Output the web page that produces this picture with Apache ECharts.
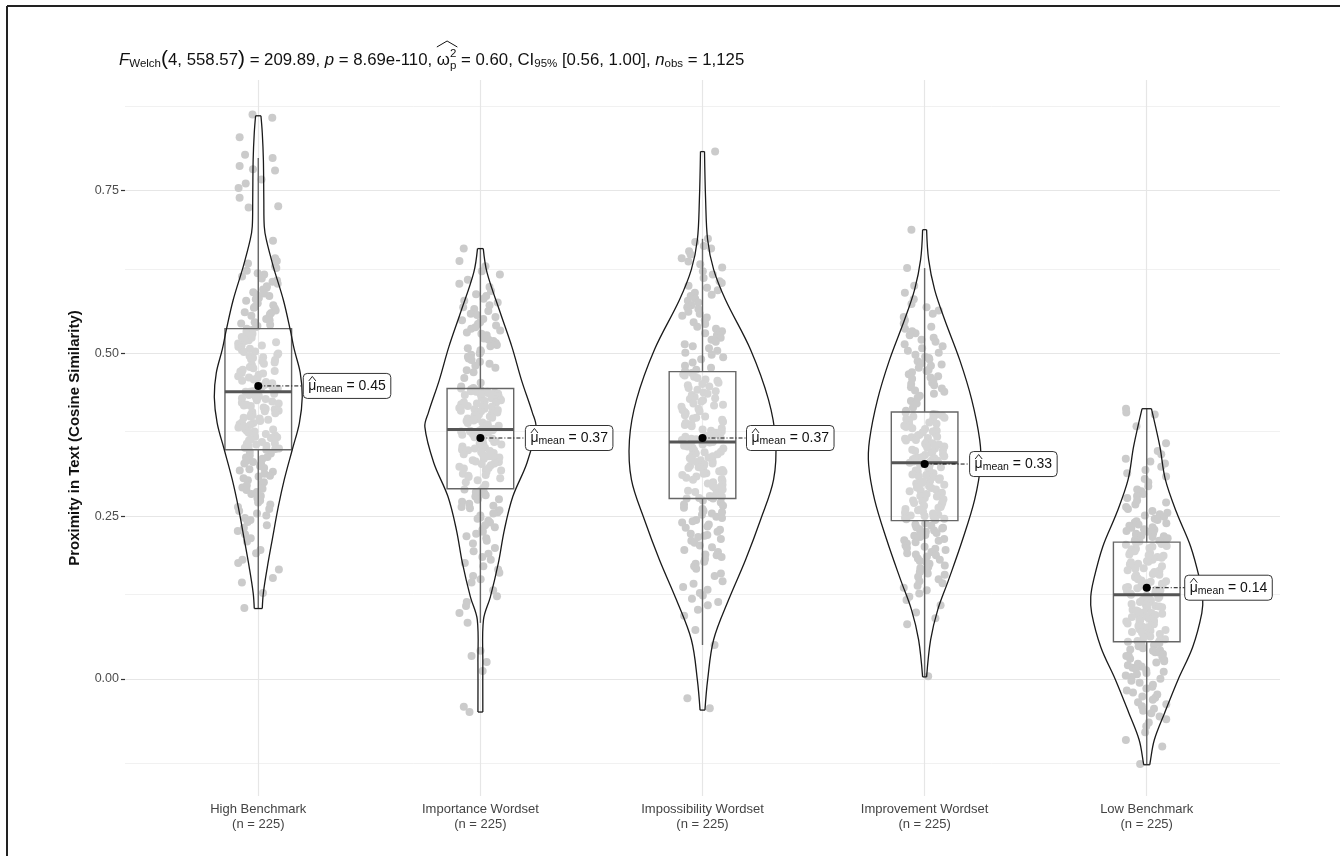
<!DOCTYPE html>
<html>
<head>
<meta charset="utf-8">
<title>Proximity in Text by Wordset</title>
<script src="https://cdn.jsdelivr.net/npm/echarts@6/dist/echarts.min.js"></script>
<style>
  html, body { margin: 0; padding: 0; background: #ffffff; }
  #chart { width: 1340px; height: 856px; }
</style>
</head>
<body>
<div id="chart"></div>
<script>
// ---------- data ----------
const groups = ['High Benchmark', 'Importance Wordset', 'Impossibility Wordset', 'Improvement Wordset', 'Low Benchmark'];
const groupN = [225, 225, 225, 225, 225];
const yTicks = [0, 0.25, 0.5, 0.75];
const yMinorBreaks = [-0.125, 0.125, 0.375, 0.625, 0.875];
const means = [0.45, 0.37, 0.37, 0.33, 0.14];

// box statistics per group: [lower whisker, Q1, median, Q3, upper whisker]
const boxHigh = [0.109, 0.352, 0.441, 0.538, 0.800];
const boxImportance = [0.086, 0.292, 0.383, 0.446, 0.661];
const boxImpossibility = [0.052, 0.277, 0.364, 0.472, 0.676];
const boxImprovement = [0.004, 0.243, 0.332, 0.410, 0.631];
const boxLow = [-0.131, 0.057, 0.129, 0.210, 0.415];

// violin outlines: density levels (y) and half widths (in category units)
const violinHighY = [0.865, 0.839, 0.798, 0.736, 0.695, 0.675, 0.633, 0.582, 0.536, 0.506, 0.470, 0.433, 0.393, 0.352, 0.306, 0.264, 0.214, 0.172, 0.132, 0.108];
const violinHighW = [0.012, 0.018, 0.023, 0.025, 0.027, 0.036, 0.068, 0.113, 0.144, 0.162, 0.189, 0.198, 0.185, 0.153, 0.117, 0.090, 0.063, 0.041, 0.023, 0.018];
const violinImportanceY = [0.661, 0.624, 0.562, 0.510, 0.459, 0.409, 0.387, 0.332, 0.280, 0.229, 0.178, 0.126, 0.091, 0.025, -0.051];
const violinImportanceW = [0.013, 0.030, 0.090, 0.142, 0.185, 0.234, 0.250, 0.210, 0.146, 0.108, 0.081, 0.045, 0.014, 0.011, 0.011];
const violinImpossibilityY = [0.810, 0.736, 0.675, 0.629, 0.582, 0.506, 0.429, 0.367, 0.306, 0.244, 0.183, 0.121, 0.060, -0.002, -0.048];
const violinImpossibilityW = [0.009, 0.014, 0.023, 0.050, 0.104, 0.216, 0.297, 0.329, 0.320, 0.261, 0.194, 0.117, 0.050, 0.023, 0.011];
const violinImprovementY = [0.690, 0.644, 0.598, 0.552, 0.490, 0.429, 0.367, 0.329, 0.275, 0.214, 0.152, 0.106, 0.060, 0.003];
const violinImprovementW = [0.009, 0.018, 0.045, 0.090, 0.158, 0.212, 0.248, 0.252, 0.225, 0.171, 0.108, 0.059, 0.027, 0.009];
const violinLowY = [0.415, 0.357, 0.306, 0.255, 0.203, 0.152, 0.126, 0.101, 0.049, -0.002, -0.052, -0.094, -0.129, -0.132];
const violinLowW = [0.021, 0.059, 0.084, 0.135, 0.198, 0.239, 0.252, 0.248, 0.207, 0.140, 0.081, 0.034, 0.015, 0.014];

// individual observations (cosine similarity) per group
const pointsHigh = [
  0.867,0.862,0.832,0.805,0.800,0.788,0.783,0.781,0.767,0.761,0.754,0.739,0.726,0.724,0.673,
  0.646,0.642,0.638,0.634,0.631,0.627,0.623,0.621,0.618,0.615,0.612,0.610,0.607,0.603,0.601,
  0.598,0.594,0.592,0.590,0.588,0.585,0.583,0.581,0.577,0.574,0.572,0.570,0.569,0.566,0.563,
  0.562,0.560,0.558,0.555,0.553,0.551,0.548,0.546,0.544,0.542,0.540,
  0.538,0.536,0.533,0.532,0.530,0.528,0.525,0.524,0.521,0.520,0.519,0.517,0.515,0.513,0.512,
  0.510,0.509,0.507,0.505,0.503,0.502,0.500,0.498,0.496,0.494,0.493,0.491,0.490,0.488,0.486,
  0.484,0.482,0.480,0.479,0.477,0.475,0.473,0.472,0.470,0.469,0.467,0.465,0.463,0.462,0.460,
  0.458,0.456,0.454,0.452,0.450,0.449,0.447,0.446,0.444,0.442,0.441,
  0.441,0.439,0.438,0.436,0.434,0.433,0.431,0.430,0.428,0.426,0.424,0.423,0.421,0.420,0.419,
  0.417,0.415,0.414,0.412,0.411,0.410,0.408,0.406,0.405,0.403,0.401,0.400,0.398,0.396,0.394,
  0.393,0.391,0.390,0.388,0.386,0.384,0.383,0.381,0.380,0.378,0.376,0.374,0.372,0.371,0.370,
  0.368,0.366,0.364,0.362,0.361,0.360,0.358,0.357,0.355,0.354,0.353,0.352,
  0.349,0.346,0.343,0.341,0.340,0.338,0.335,0.333,0.331,0.330,0.327,0.324,0.322,0.320,0.318,
  0.315,0.312,0.311,0.308,0.305,0.302,0.300,0.297,0.294,0.292,0.290,0.287,0.284,0.281,0.277,
  0.274,0.271,0.268,0.264,0.261,0.258,0.254,0.251,0.247,0.244,0.241,0.236,0.232,0.227,0.222,
  0.216,0.211,0.198,0.193,0.183,0.178,0.168,0.155,0.148,0.132,0.109
];
const pointsImportance = [
  0.661,0.642,0.634,0.626,0.621,0.613,0.607,0.602,0.596,0.591,0.588,0.584,0.581,0.578,0.574,
  0.571,0.568,0.565,0.561,0.559,0.556,0.553,0.551,0.548,0.545,0.543,0.540,0.538,0.535,0.532,
  0.530,0.528,0.525,0.523,0.521,0.519,0.516,0.513,0.511,0.508,0.505,0.503,0.500,0.498,0.495,
  0.492,0.490,0.487,0.484,0.481,0.478,0.474,0.471,0.462,0.455,0.449,
  0.447,0.446,0.445,0.444,0.443,0.442,0.441,0.441,0.440,0.439,0.438,0.437,0.436,0.435,0.434,
  0.432,0.431,0.430,0.429,0.428,0.427,0.426,0.425,0.424,0.423,0.422,0.421,0.420,0.419,0.418,
  0.417,0.416,0.415,0.414,0.413,0.412,0.411,0.410,0.409,0.408,0.406,0.405,0.404,0.403,0.402,
  0.401,0.400,0.399,0.397,0.396,0.394,0.393,0.391,0.389,0.386,0.384,
  0.383,0.383,0.382,0.381,0.381,0.380,0.380,0.378,0.376,0.375,0.373,0.372,0.371,0.370,0.369,
  0.367,0.365,0.364,0.362,0.361,0.360,0.358,0.357,0.355,0.354,0.352,0.351,0.350,0.348,0.347,
  0.345,0.344,0.342,0.341,0.340,0.338,0.336,0.334,0.333,0.331,0.330,0.328,0.326,0.324,0.323,
  0.321,0.320,0.318,0.315,0.313,0.312,0.310,0.308,0.305,0.302,0.298,0.293,
  0.291,0.290,0.288,0.287,0.285,0.282,0.280,0.278,0.276,0.275,0.272,0.269,0.266,0.264,0.262,
  0.259,0.256,0.254,0.251,0.248,0.246,0.243,0.240,0.236,0.233,0.229,0.226,0.223,0.219,0.216,
  0.212,0.208,0.201,0.196,0.192,0.187,0.183,0.178,0.173,0.168,0.163,0.158,0.153,0.148,0.136,
  0.127,0.118,0.112,0.101,0.086,0.043,0.035,0.026,0.012,-0.043,-0.051
];
const pointsImpossibility = [
  0.810,0.676,0.671,0.665,0.661,0.657,0.652,0.646,0.641,0.637,0.632,0.626,0.621,0.616,0.611,
  0.608,0.604,0.601,0.597,0.593,0.590,0.588,0.584,0.581,0.578,0.574,0.571,0.568,0.564,0.561,
  0.558,0.555,0.551,0.548,0.545,0.541,0.538,0.534,0.531,0.528,0.524,0.521,0.518,0.514,0.511,
  0.508,0.504,0.501,0.498,0.494,0.491,0.486,0.481,0.478,0.475,0.473,
  0.470,0.468,0.466,0.464,0.462,0.460,0.458,0.455,0.453,0.451,0.449,0.447,0.444,0.442,0.440,
  0.438,0.436,0.433,0.431,0.430,0.428,0.426,0.423,0.421,0.420,0.418,0.415,0.413,0.411,0.410,
  0.408,0.405,0.403,0.401,0.400,0.398,0.395,0.393,0.391,0.390,0.388,0.385,0.383,0.381,0.380,
  0.378,0.376,0.375,0.373,0.372,0.370,0.369,0.368,0.367,0.366,0.365,
  0.364,0.363,0.361,0.360,0.358,0.357,0.355,0.354,0.352,0.351,0.349,0.348,0.346,0.345,0.343,
  0.342,0.340,0.339,0.337,0.336,0.334,0.333,0.331,0.330,0.328,0.327,0.325,0.324,0.322,0.321,
  0.319,0.318,0.316,0.315,0.313,0.311,0.309,0.307,0.306,0.304,0.302,0.300,0.298,0.296,0.295,
  0.293,0.291,0.289,0.287,0.285,0.283,0.281,0.280,0.279,0.278,0.277,0.277,
  0.274,0.271,0.268,0.266,0.263,0.261,0.258,0.256,0.254,0.252,0.249,0.247,0.244,0.242,0.240,
  0.237,0.234,0.232,0.229,0.226,0.223,0.221,0.220,0.218,0.215,0.212,0.209,0.205,0.202,0.198,
  0.195,0.191,0.190,0.187,0.184,0.180,0.177,0.173,0.169,0.162,0.158,0.150,0.146,0.141,0.137,
  0.132,0.128,0.123,0.118,0.113,0.106,0.097,0.075,0.052,-0.030,-0.045
];
const pointsImprovement = [
  0.690,0.631,0.604,0.593,0.583,0.576,0.571,0.566,0.561,0.556,0.551,0.546,0.541,0.538,0.534,
  0.531,0.528,0.524,0.521,0.518,0.514,0.511,0.508,0.504,0.501,0.498,0.495,0.493,0.491,0.488,
  0.485,0.483,0.481,0.478,0.475,0.473,0.471,0.468,0.465,0.463,0.461,0.458,0.455,0.453,0.451,
  0.448,0.446,0.443,0.441,0.438,0.435,0.432,0.427,0.423,0.417,0.412,
  0.409,0.407,0.406,0.404,0.403,0.401,0.400,0.399,0.397,0.396,0.394,0.392,0.391,0.390,0.389,
  0.387,0.385,0.384,0.382,0.381,0.380,0.379,0.377,0.375,0.374,0.372,0.371,0.370,0.369,0.367,
  0.366,0.364,0.362,0.361,0.360,0.359,0.357,0.355,0.354,0.352,0.351,0.350,0.349,0.347,0.345,
  0.344,0.342,0.341,0.340,0.339,0.338,0.337,0.336,0.335,0.334,0.333,
  0.332,0.331,0.329,0.327,0.325,0.324,0.322,0.320,0.318,0.316,0.314,0.313,0.311,0.310,0.308,
  0.306,0.304,0.303,0.301,0.300,0.298,0.296,0.294,0.293,0.291,0.290,0.288,0.286,0.284,0.283,
  0.281,0.280,0.278,0.276,0.274,0.273,0.271,0.270,0.268,0.266,0.264,0.263,0.261,0.260,0.259,
  0.257,0.255,0.254,0.252,0.251,0.250,0.249,0.248,0.247,0.246,0.245,0.244,
  0.239,0.237,0.235,0.233,0.232,0.231,0.230,0.228,0.226,0.224,0.223,0.221,0.220,0.218,0.215,
  0.213,0.212,0.210,0.208,0.205,0.203,0.201,0.200,0.198,0.195,0.193,0.191,0.190,0.188,0.185,
  0.183,0.181,0.180,0.177,0.174,0.172,0.170,0.167,0.164,0.162,0.160,0.157,0.153,0.150,0.147,
  0.143,0.140,0.136,0.131,0.126,0.121,0.113,0.102,0.093,0.084,0.004
];
const pointsLow = [
  0.415,0.409,0.406,0.388,0.362,0.350,0.345,0.338,0.334,0.331,0.326,0.321,0.316,0.311,0.307,
  0.302,0.296,0.291,0.288,0.284,0.281,0.278,0.274,0.271,0.268,0.264,0.261,0.258,0.255,0.253,
  0.251,0.249,0.246,0.244,0.242,0.240,0.239,0.237,0.235,0.233,0.232,0.230,0.229,0.227,0.226,
  0.224,0.223,0.221,0.220,0.219,0.218,0.216,0.215,0.213,0.212,0.211,
  0.209,0.207,0.206,0.204,0.203,0.201,0.200,0.199,0.197,0.196,0.194,0.193,0.191,0.190,0.189,
  0.187,0.186,0.184,0.183,0.181,0.180,0.179,0.177,0.176,0.174,0.173,0.171,0.170,0.169,0.167,
  0.166,0.164,0.163,0.161,0.160,0.159,0.157,0.156,0.154,0.153,0.151,0.150,0.149,0.147,0.146,
  0.144,0.143,0.141,0.140,0.139,0.137,0.136,0.134,0.133,0.131,0.130,
  0.129,0.128,0.126,0.125,0.124,0.122,0.121,0.120,0.119,0.118,0.116,0.115,0.114,0.112,0.111,
  0.110,0.109,0.108,0.106,0.105,0.104,0.102,0.101,0.100,0.099,0.098,0.096,0.095,0.094,0.092,
  0.091,0.090,0.089,0.088,0.086,0.085,0.084,0.082,0.081,0.080,0.079,0.078,0.076,0.075,0.074,
  0.072,0.071,0.070,0.069,0.067,0.065,0.063,0.061,0.059,0.058,0.057,
  0.056,0.055,0.054,0.052,0.051,0.050,0.047,0.045,0.044,0.043,0.041,0.040,0.038,0.036,0.035,
  0.033,0.031,0.029,0.027,0.025,0.023,0.021,0.019,0.017,0.015,0.013,0.011,0.009,0.007,0.005,
  0.003,0.000,-0.003,-0.006,-0.009,-0.012,-0.015,-0.018,-0.021,-0.024,-0.027,-0.029,-0.032,-0.036,-0.039,
  -0.042,-0.046,-0.049,-0.053,-0.058,-0.062,-0.067,-0.073,-0.082,-0.094,-0.104,-0.131
];

// ---------- layout helpers ----------
const boxStats = [boxHigh, boxImportance, boxImpossibility, boxImprovement, boxLow];
const violinY = [violinHighY, violinImportanceY, violinImpossibilityY, violinImprovementY, violinLowY];
const violinW = [violinHighW, violinImportanceW, violinImpossibilityW, violinImprovementW, violinLowW];
const pointSets = [pointsHigh, pointsImportance, pointsImpossibility, pointsImprovement, pointsLow];
const labelGap = [45, 45, 44, 45, 38];   // pixel gap between mean dot and its label box
const BOX_HALF = 0.15;                   // half width of the box in category units
const JITTER = 0.19;                     // total horizontal jitter width in category units

const FONT = '"Liberation Sans", Arial, Helvetica, sans-serif';
const measureCtx = document.createElement('canvas').getContext('2d');
function fontOf(p) { return (p.bold ? 'bold ' : '') + (p.italic ? 'italic ' : '') + p.size + 'px ' + FONT; }
function textWidth(str, font) { measureCtx.font = font; return measureCtx.measureText(str).width; }

// lays out a run of text pieces (sub/superscripts via dy) and returns zrender text elements
function layoutRun(pieces, x0, yMid, fill) {
  let x = x0;
  const els = [];
  const marks = {};
  pieces.forEach(p => {
    const font = fontOf(p);
    if (p.mark) marks[p.mark] = x;
    els.push({
      type: 'text', x: x, y: yMid + (p.dy || 0), silent: true,
      style: { text: p.t, font: font, fill: fill, align: 'left', verticalAlign: 'middle' }
    });
    if (!p.stack) x += textWidth(p.t, font);
    if (p.markEnd) marks[p.markEnd] = x;
  });
  return { els: els, width: x - x0, marks: marks };
}

// deterministic horizontal spread of the observations around each category (integer hash of the index)
function jitterOffset(i, g) {
  let h = Math.imul(i + 1 + g * 1013, 2654435761) >>> 0;
  h ^= h >>> 15;
  h = Math.imul(h, 2246822519) >>> 0;
  h ^= h >>> 13;
  const f = (h >>> 0) / 4294967296;
  return (f - 0.5) * JITTER;
}

const scatterData = [];
pointSets.forEach((arr, g) => arr.forEach((v, i) => scatterData.push([g + 1 + jitterOffset(i, g), v])));
const groupData = groups.map((_, g) => [g + 1, means[g]]);

// ---------- renderers ----------
function renderViolin(params, api) {
  const g = params.dataIndex, c = g + 1;
  const ys = violinY[g], ws = violinW[g];
  const left = ys.map((y, i) => api.coord([c - ws[i], y]));
  const right = ys.map((y, i) => api.coord([c + ws[i], y]));
  const n = ys.length - 1;
  const st = { stroke: '#1a1a1a', lineWidth: 1.3, fill: 'none' };
  return {
    type: 'group', silent: true,
    children: [
      { type: 'polyline', shape: { points: left, smooth: 0.35 }, style: st },
      { type: 'polyline', shape: { points: right, smooth: 0.35 }, style: st },
      { type: 'line', shape: { x1: left[0][0], y1: left[0][1], x2: right[0][0], y2: right[0][1] }, style: st },
      { type: 'line', shape: { x1: left[n][0], y1: left[n][1], x2: right[n][0], y2: right[n][1] }, style: st }
    ]
  };
}

function renderBox(params, api) {
  const g = params.dataIndex, c = g + 1, s = boxStats[g];
  const top = api.coord([c - BOX_HALF, s[3]]);
  const bottom = api.coord([c + BOX_HALF, s[1]]);
  const wHi = api.coord([c, s[4]]), q3 = api.coord([c, s[3]]);
  const wLo = api.coord([c, s[0]]), q1 = api.coord([c, s[1]]);
  const mL = api.coord([c - BOX_HALF, s[2]]), mR = api.coord([c + BOX_HALF, s[2]]);
  const gray = { stroke: '#666666', lineWidth: 1.4 };
  return {
    type: 'group', silent: true,
    children: [
      { type: 'line', shape: { x1: q3[0], y1: q3[1], x2: wHi[0], y2: wHi[1] }, style: gray },
      { type: 'line', shape: { x1: q1[0], y1: q1[1], x2: wLo[0], y2: wLo[1] }, style: gray },
      { type: 'rect', shape: { x: top[0], y: top[1], width: bottom[0] - top[0], height: bottom[1] - top[1] },
        style: { fill: 'rgba(255,255,255,0.2)', stroke: '#666666', lineWidth: 1.4 } },
      { type: 'line', shape: { x1: mL[0], y1: mL[1], x2: mR[0], y2: mR[1] }, style: { stroke: '#555555', lineWidth: 3 } }
    ]
  };
}

function renderMean(params, api) {
  const g = params.dataIndex;
  const pt = api.coord([g + 1, means[g]]);
  const bx = pt[0] + labelGap[g];
  const pieces = [
    { t: '\u03bc', size: 14 },
    { t: 'mean', size: 10.5, dy: 3 },
    { t: ' = ' + means[g].toFixed(2), size: 14 }
  ];
  const run = layoutRun(pieces, bx + 5, pt[1], '#111111');
  const muW = textWidth('\u03bc', fontOf(pieces[0]));
  return {
    type: 'group', silent: true,
    children: [
      { type: 'line', shape: { x1: pt[0], y1: pt[1], x2: bx, y2: pt[1] },
        style: { stroke: '#111111', lineWidth: 1, lineDash: [4, 2, 1, 2] } },
      { type: 'rect', shape: { x: bx, y: pt[1] - 12.5, width: run.width + 10, height: 25, r: 4 },
        style: { fill: '#ffffff', stroke: '#333333', lineWidth: 1 } },
      ...run.els,
      { type: 'polyline', shape: { points: [[bx + 5.5, pt[1] - 5], [bx + 5 + muW / 2, pt[1] - 9.5], [bx + 4.5 + muW, pt[1] - 5]] },
        style: { stroke: '#111111', lineWidth: 0.9, fill: 'none' } },
      { type: 'circle', shape: { cx: pt[0], cy: pt[1], r: 4 }, style: { fill: '#000000' } }
    ]
  };
}

// ---------- subtitle with the Welch ANOVA summary ----------
const titlePieces = [
  { t: 'F', size: 16.8, italic: true },
  { t: 'Welch', size: 11.5, dy: 4 },
  { t: '(', size: 21, dy: -1 },
  { t: '4, 558.57', size: 16.8 },
  { t: ')', size: 21, dy: -1 },
  { t: ' = 209.89, ', size: 16.8 },
  { t: 'p', size: 16.8, italic: true },
  { t: ' = 8.69e-110, ', size: 16.8 },
  { t: '\u03c9', size: 16.8, mark: 'hatStart' },
  { t: '2', size: 11.5, dy: -6, stack: true },
  { t: 'p', size: 11.5, dy: 6, markEnd: 'hatEnd' },
  { t: ' = 0.60, CI', size: 16.8 },
  { t: '95%', size: 11.5, dy: 4 },
  { t: ' [0.56, 1.00], ', size: 16.8 },
  { t: 'n', size: 16.8, italic: true },
  { t: 'obs', size: 11.5, dy: 4 },
  { t: ' = 1,125', size: 16.8 }
];
const titleRun = layoutRun(titlePieces, 119, 60, '#111111');
const hs = titleRun.marks.hatStart, he = titleRun.marks.hatEnd + 1;

// ---------- chart ----------
const chart = echarts.init(document.getElementById('chart'), null, { renderer: 'canvas' });
chart.setOption({
  animation: false,
  backgroundColor: '#ffffff',
  textStyle: { fontFamily: FONT },
  grid: { left: 125, right: 60, top: 80, bottom: 60, containLabel: false, outerBoundsMode: 'none' },
  xAxis: {
    type: 'value', min: 0.4, max: 5.6,
    axisLine: { show: false },
    splitLine: { show: false },
    axisTick: { show: true, customValues: [1, 2, 3, 4, 5], length: 4, lineStyle: { color: '#333333', width: 1 } },
    axisLabel: {
      customValues: [1, 2, 3, 4, 5],
      formatter: v => { const i = Math.round(v) - 1; return groups[i] + '\n(n = ' + groupN[i] + ')'; },
      fontSize: 13, lineHeight: 15, color: '#444444', margin: 6
    }
  },
  yAxis: {
    type: 'value', min: -0.18, max: 0.92,
    axisLine: { show: false },
    splitLine: { show: false },
    axisTick: { show: true, customValues: yTicks, length: 4, lineStyle: { color: '#333333', width: 1.2 } },
    axisLabel: { customValues: yTicks, formatter: v => v.toFixed(2), fontSize: 12.5, color: '#4d4d4d', margin: 6 }
  },
  graphic: [
    ...titleRun.els,
    { type: 'polyline', silent: true, shape: { points: [[hs, 47], [(hs + he) / 2, 41], [he, 47]] },
      style: { stroke: '#111111', lineWidth: 1, fill: 'none' } },
    { type: 'text', x: 75, y: 438, rotation: Math.PI / 2, silent: true,
      style: { text: 'Proximity in Text (Cosine Similarity)', font: 'bold 15px ' + FONT, fill: '#111111', align: 'center', verticalAlign: 'middle' } },
    { type: 'line', silent: true, shape: { x1: 7, y1: 6, x2: 1340, y2: 6 }, style: { stroke: '#222222', lineWidth: 2 } },
    { type: 'line', silent: true, shape: { x1: 7, y1: 6, x2: 7, y2: 856 }, style: { stroke: '#222222', lineWidth: 2 } }
  ],
  series: [
    {
      // panel grid lines
      type: 'line', data: [[1, 0]], symbol: 'none', lineStyle: { opacity: 0 }, silent: true, z: 1,
      markLine: {
        silent: true, symbol: 'none', z: 1, animation: false,
        label: { show: false },
        lineStyle: { type: 'solid' },
        data: [
          ...yMinorBreaks.map(v => ({ yAxis: v, lineStyle: { color: '#efefef', width: 0.9, type: 'solid' } })),
          ...yTicks.map(v => ({ yAxis: v, lineStyle: { color: '#e6e6e6', width: 1.2, type: 'solid' } })),
          ...groups.map((_, g) => ({ xAxis: g + 1, lineStyle: { color: '#e6e6e6', width: 1.2, type: 'solid' } }))
        ]
      }
    },
    {
      type: 'scatter', data: scatterData, symbolSize: 8, silent: true, z: 2,
      itemStyle: { color: '#cbcbcb', opacity: 1 }
    },
    { type: 'custom', data: groupData, encode: { x: 0, y: 1 }, renderItem: renderBox, z: 3, clip: false, silent: true },
    { type: 'custom', data: groupData, encode: { x: 0, y: 1 }, renderItem: renderViolin, z: 4, clip: false, silent: true },
    { type: 'custom', data: groupData, encode: { x: 0, y: 1 }, renderItem: renderMean, z: 5, clip: false, silent: true }
  ]
});
</script>
</body>
</html>
